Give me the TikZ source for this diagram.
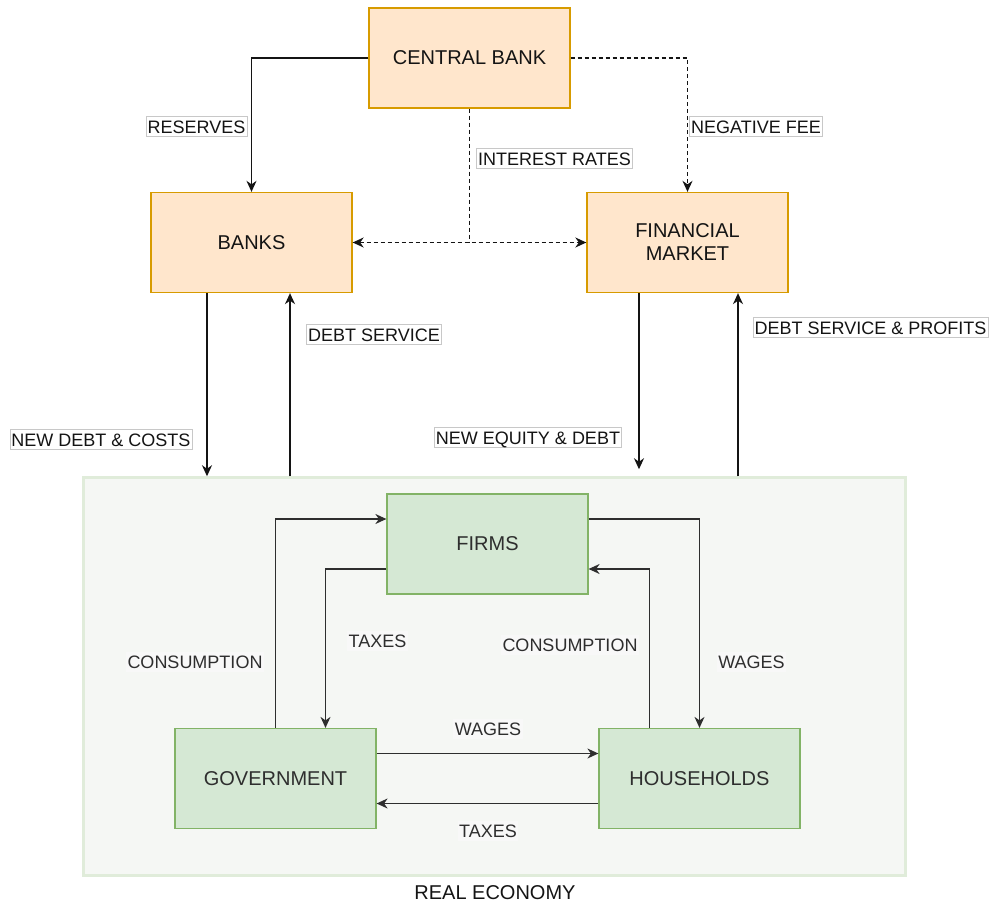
\documentclass[tikz,border=0pt]{standalone}
\usepackage{fontspec}
\setmainfont{Liberation Sans}
\usetikzlibrary{arrows.meta,calc}
\definecolor{orfill}{HTML}{FFE6CC}
\definecolor{ordraw}{HTML}{D79B00}
\definecolor{grfill}{HTML}{D5E8D4}
\definecolor{grdraw}{HTML}{82B366}
\definecolor{ecfill}{HTML}{F5F7F4}
\definecolor{ecdraw}{HTML}{E0ECDA}
\definecolor{txtdark}{HTML}{141414}
\definecolor{txtgray}{HTML}{2E2E2E}
\definecolor{lblbord}{HTML}{C8C8C8}
\definecolor{inlbl}{HTML}{F8F8F8}
\tikzset{
  orbox/.style={draw=ordraw, fill=orfill, line width=1.3pt, minimum width=201pt, minimum height=100pt, inner sep=0pt, align=center, text=txtdark, font=\fontsize{20}{24}\selectfont},
  grbox/.style={draw=grdraw, fill=grfill, line width=1.2pt, minimum width=201pt, minimum height=100pt, inner sep=0pt, align=center, text=txtgray, font=\fontsize{20}{24}\selectfont},
  toplbl/.style={draw=lblbord, fill=white, line width=0.6pt, inner xsep=1.5pt, inner ysep=3.5pt, text height=13pt, text depth=0pt, text=txtdark, font=\fontsize{18}{20}\selectfont},
  inlbl/.style={fill=inlbl, inner xsep=1.5pt, inner ysep=3.5pt, text height=13pt, text depth=0pt, text=txtgray, font=\fontsize{18}{20}\selectfont},
  tip/.style={},
  arr/.style={draw=txtdark, line width=1.5pt, -{Stealth[length=11pt,width=10pt,inset=3.5pt]}},
  darr/.style={arr, dash pattern=on 4pt off 3pt},
  iarr/.style={draw=txtgray, line width=1.3pt, -{Stealth[length=11pt,width=10pt,inset=3.5pt]}},
}
\begin{document}
\begin{tikzpicture}[x=1pt,y=-1pt]
\useasboundingbox (0,0) rectangle (997,907);
% container
\node[draw=ecdraw, fill=ecfill, line width=2.5pt, minimum width=822pt, minimum height=398pt, inner sep=0pt] (econ) at (494.5,676.5) {};
\node[text=txtdark, font=\fontsize{20}{24}\selectfont] (econlbl) at (495,893) {REAL ECONOMY};
% boxes
\node[orbox] (cb) at (469.5,58) {CENTRAL BANK};
\node[orbox] (banks) at (251.5,242.5) {BANKS};
\node[orbox] (fm) at (687.5,242.5) {FINANCIAL\\[-1pt]MARKET};
\node[grbox] (firms) at (487.5,544) {FIRMS};
\node[grbox] (gov) at (275.5,778.5) {GOVERNMENT};
\node[grbox] (hh) at (699.5,778.5) {HOUSEHOLDS};
% top connectors
\draw[arr] (cb.west) -| (banks.north);
\draw[darr] (cb.east) -| (fm.north);
\coordinate (irj) at (cb.south |- banks.east);
\draw[draw=txtdark, line width=1.5pt, dash pattern=on 4pt off 3pt] (cb.south) -- (irj);
\draw[darr, {Stealth[length=11pt,width=10pt,inset=3.5pt]}-{Stealth[length=11pt,width=10pt,inset=3.5pt]}] (banks.east) -- (fm.west);
\draw[arr] ([xshift=-44.5pt]banks.south) -- ([xshift=-44.5pt]banks.south |- econ.north);
\draw[arr] ([xshift=38.5pt]banks.south |- econ.north) -- ([xshift=38.5pt]banks.south);
\draw[arr] ([xshift=-48.5pt]fm.south) -- ([xshift=-48.5pt,yshift=7pt]fm.south |- econ.north);
\draw[arr] ([xshift=50.5pt]fm.south |- econ.north) -- ([xshift=50.5pt]fm.south);
% inner connectors
\draw[iarr] ([yshift=-25pt]firms.west) -| ([xshift=50pt]gov.north);
\draw[iarr] (gov.north) |- ([yshift=25pt]firms.west);
\draw[iarr] ([yshift=25pt]firms.east) -| (hh.north);
\draw[iarr] ([xshift=-50pt]hh.north) |- ([yshift=-25pt]firms.east);
\draw[iarr] ([yshift=25pt]gov.east) -- ([yshift=25pt]hh.west);
\draw[iarr] ([yshift=-25pt]hh.west) -- ([yshift=-25pt]gov.east);
% labels
\node[toplbl] (l1) at (196.5,126.5) {RESERVES};
\node[toplbl] (l2) at (756,126.5) {NEGATIVE FEE};
\node[toplbl] (l3) at (554.5,158.5) {INTEREST RATES};
\node[toplbl] (l4) at (101,439.5) {NEW DEBT \& COSTS};
\node[toplbl] (l5) at (374,334.5) {DEBT SERVICE};
\node[toplbl] (l6) at (528,437.5) {NEW EQUITY \& DEBT};
\node[toplbl] (l7) at (870.5,327.5) {DEBT SERVICE \& PROFITS};
\node[inlbl] (l8) at (195,661.5) {CONSUMPTION};
\node[inlbl] (l9) at (377.5,641) {TAXES};
\node[inlbl] (l10) at (570,644.5) {CONSUMPTION};
\node[inlbl] (l11) at (751.5,661.5) {WAGES};
\node[inlbl] (l12) at (488,728.5) {WAGES};
\node[inlbl] (l13) at (488,830.5) {TAXES};
\end{tikzpicture}
\end{document}
